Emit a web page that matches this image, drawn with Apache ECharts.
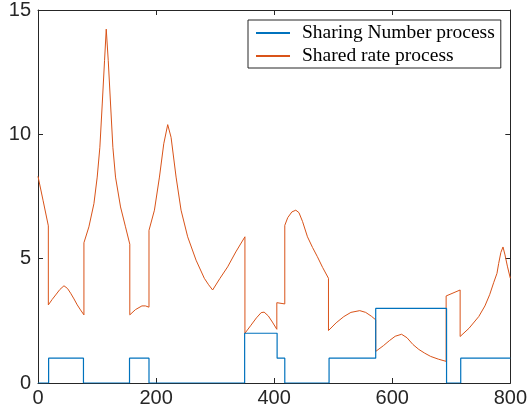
<!DOCTYPE html>
<html>
<head>
<meta charset="utf-8">
<script src="https://cdn.jsdelivr.net/npm/echarts@6/dist/echarts.min.js"></script>
<style>
  html, body { margin: 0; padding: 0; background: #fff; }
  #chart { width: 530px; height: 418px; }
</style>
</head>
<body>
<div id="chart"></div>
<script>
// values
const xTicks = [0, 200, 400, 600, 800]
const yTicks = [0, 5, 10, 15]

// sharing number: value holds from x until the next x
const numX = [0, 18, 77, 155, 188, 350, 405, 418, 493, 572, 692, 716, 800]
const numY = [0, 1, 0, 1, 0, 2, 1, 0, 1, 3, 0, 1, 1]

// shared rate: repeated x = vertical jump
const rateX = [0, 8.5, 17.5, 17.5, 24, 29.9, 37, 44, 50, 55.3, 61, 66.5, 72, 77.8, 77.8, 86.2, 94.7, 100.3, 104.8,
  108.8, 112.7, 115.6, 119, 122.9, 126.8, 131.3, 139.8, 148.2, 155.5, 155.5, 165, 176, 182, 188, 188, 197.2,
  205.7, 213, 219.7, 225.4, 233.9, 242.3, 253.5, 267.7, 281.7, 289, 295.8, 308, 321.2, 335, 350.5, 350.5,
  360, 370, 378, 383, 390, 397, 404.5, 404.5, 418, 418, 423, 430, 436.7, 442, 448, 456.4, 465, 473.2, 482,
  492, 492, 505, 518, 530, 545, 555, 565, 572, 572, 585, 595, 605, 615.8, 625, 635, 645, 655, 665, 678, 691.3,
  691.3, 715, 715, 730, 746.5, 757, 765, 772, 777.4, 780.3, 784, 787.6, 791, 795, 800]
const rateY = [8.31, 7.35, 6.32, 3.14, 3.36, 3.54, 3.76, 3.91, 3.8, 3.61, 3.38, 3.14, 2.94, 2.74, 5.64, 6.28, 7.21, 8.28, 9.48,
  11.22, 12.96, 14.23, 12.96, 11.22, 9.48, 8.28, 7.08, 6.28, 5.58, 2.74, 2.95, 3.1, 3.1, 3.05, 6.14, 6.95,
  8.28, 9.62, 10.39, 9.88, 8.28, 6.95, 5.88, 4.94, 4.21, 3.95, 3.74, 4.2, 4.67, 5.27, 5.88, 2.0,
  2.3, 2.62, 2.83, 2.85, 2.7, 2.45, 2.16, 3.23, 3.18, 6.34, 6.65, 6.88, 6.95, 6.85, 6.5, 5.88, 5.45, 5.08, 4.65,
  4.21, 2.11, 2.42, 2.67, 2.84, 2.91, 2.84, 2.68, 2.54, 1.27, 1.5, 1.7, 1.88, 1.96, 1.82, 1.55, 1.35, 1.2, 1.07, 0.96, 0.87,
  3.5, 3.74, 1.87, 2.2, 2.67, 3.1, 3.55, 4.05, 4.41, 4.81, 5.25, 5.47, 5.15, 4.7, 4.21]

const axisColor = '#262626'
const zip = (xs, ys) => xs.map((x, i) => [x, ys[i]])

const chart = echarts.init(document.getElementById('chart'))

const plainAxis = {
  axisLine: { show: true, onZero: false, lineStyle: { color: axisColor, width: 1 } },
  axisTick: { show: true, inside: true, length: 5, lineStyle: { color: axisColor } },
  splitLine: { show: false },
}

chart.setOption({
  backgroundColor: '#fff',
  animation: false,
  grid: { left: 38, right: 19, top: 9, bottom: 35 },
  legend: {
    orient: 'vertical',
    left: 248,
    top: 20,
    padding: [3, 6, 2, 7],
    borderColor: axisColor,
    borderWidth: 1,
    backgroundColor: '#fff',
    itemWidth: 34,
    itemHeight: 14,
    itemGap: 3,
    itemStyle: { opacity: 0 },
    textStyle: {
      fontFamily: 'Liberation Serif',
      fontSize: 19.5,
      lineHeight: 20,
      color: '#000',
      padding: [0, 0, 0, 7],
    },
    data: ['Sharing Number process', 'Shared rate process'],
  },
  xAxis: [
    {
      ...plainAxis,
      type: 'value', min: 0, max: 800, interval: 200,
      axisLabel: { color: axisColor, fontFamily: 'Liberation Sans', fontSize: 20, margin: 5 },
    },
    {
      ...plainAxis,
      type: 'value', position: 'top', min: 0, max: 800, interval: 200,
      axisLabel: { show: false },
    },
  ],
  yAxis: [
    {
      ...plainAxis,
      type: 'value', min: 0, max: 15, interval: 5,
      axisLabel: { color: axisColor, fontFamily: 'Liberation Sans', fontSize: 20, margin: 7 },
    },
    {
      ...plainAxis,
      type: 'value', position: 'right', min: 0, max: 15, interval: 5,
      axisLabel: { show: false },
    },
  ],
  series: [
    {
      name: 'Sharing Number process',
      type: 'line',
      step: 'end',
      data: zip(numX, numY),
      symbol: 'none',
      lineStyle: { color: '#0072BD', width: 1.2 },
      itemStyle: { color: '#0072BD' },
      z: 3,
    },
    {
      name: 'Shared rate process',
      type: 'line',
      data: zip(rateX, rateY),
      symbol: 'none',
      lineStyle: { color: '#D95319', width: 1 },
      itemStyle: { color: '#D95319' },
      z: 2,
    },
  ],
})
</script>
</body>
</html>
